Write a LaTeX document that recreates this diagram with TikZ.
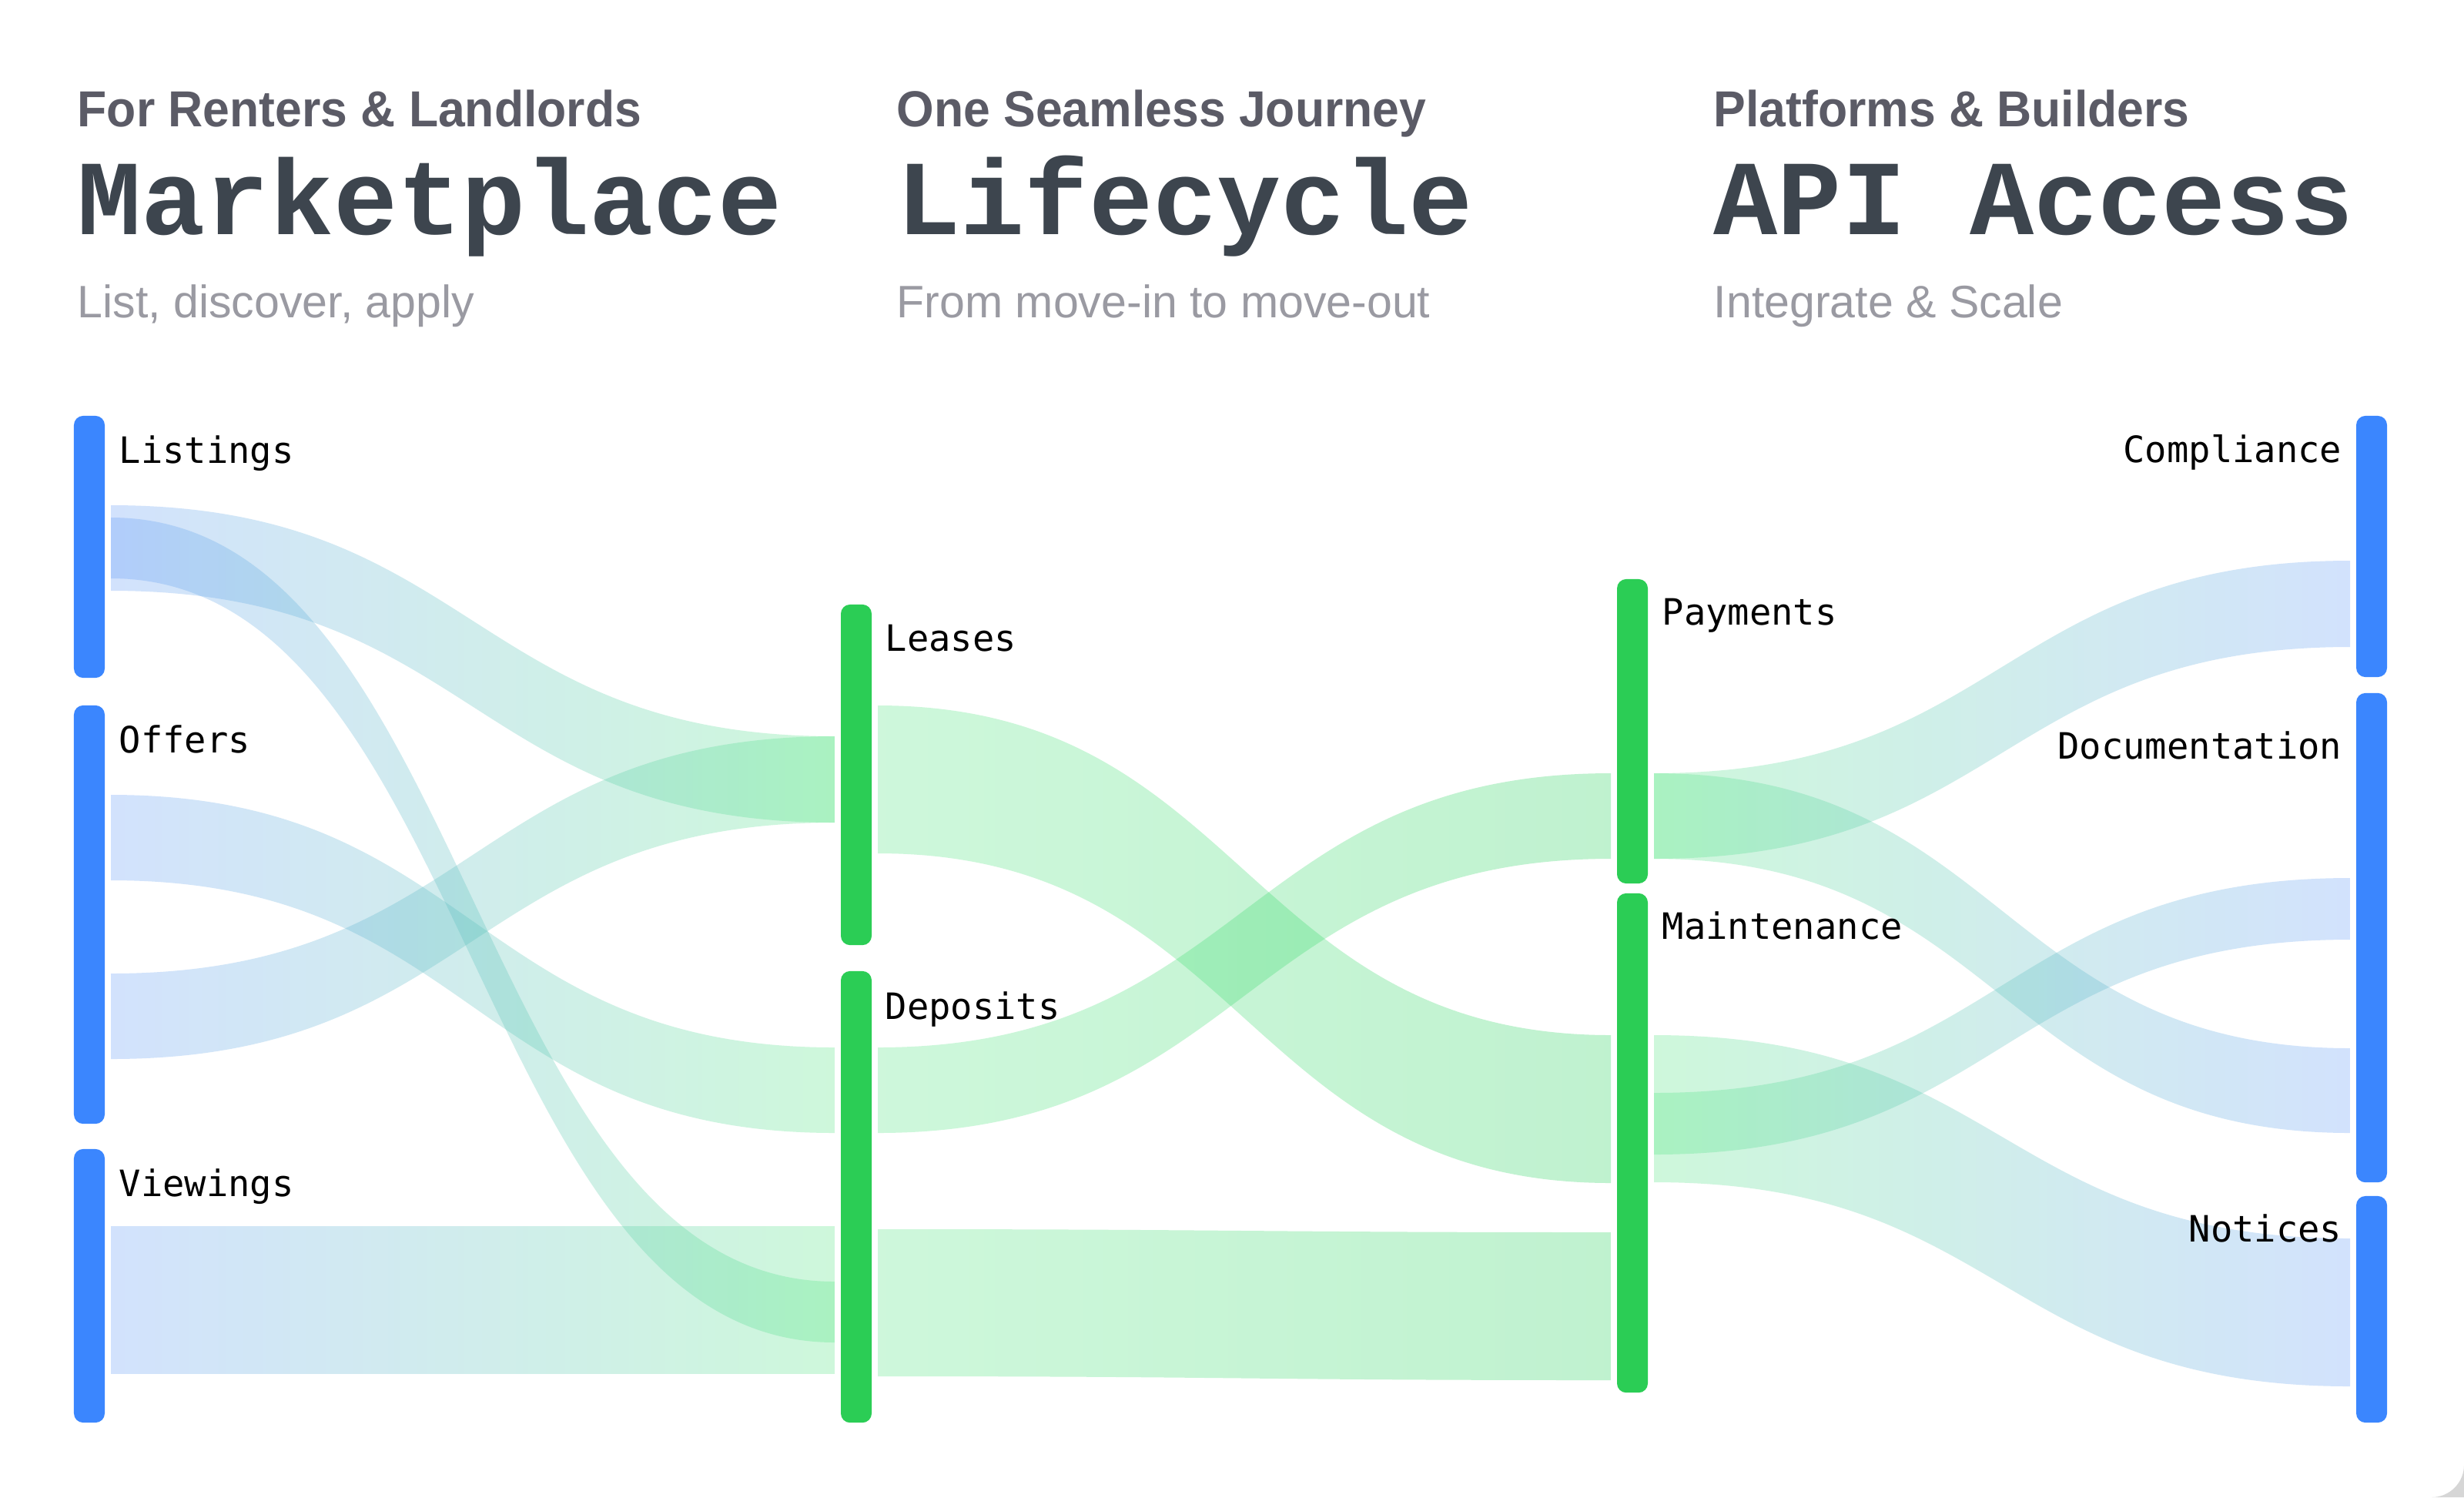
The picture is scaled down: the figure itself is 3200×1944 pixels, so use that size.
\documentclass[tikz,border=0pt]{standalone}
\usepackage{fontspec}
\setmainfont{Liberation Sans}
\newfontfamily\titlefont{Liberation Mono}
\newfontfamily\kickerfont{Liberation Sans}[FakeStretch=0.95]
\newfontfamily\labelfont{DejaVu Sans Mono}
\usepackage{xcolor}
\usepackage{tikz}
\usetikzlibrary{calc}
\definecolor{NodeBlue}{HTML}{3B86FE}
\definecolor{NodeGreen}{HTML}{2BCD55}
\definecolor{FlowBlue}{HTML}{5B96F8}
\definecolor{FlowMint}{HTML}{4AE57C}
\definecolor{FlowGreen}{HTML}{16CF50}
\definecolor{TitleInk}{HTML}{3D454E}
\definecolor{KickerInk}{HTML}{5B5B66}
\definecolor{BlurbInk}{HTML}{9A9AA2}
\definecolor{CornerGray}{HTML}{D6D6D6}
\tikzset{
  sankey bar/.style={
    rectangle,
    rounded corners=0.12cm,
    minimum width=0.4cm,
    inner sep=0pt,
    outer xsep=0.08cm
  },
  sankey label/.style={
    inner sep=0pt,
    font=\labelfont\fontsize{13.4pt}{14pt}\selectfont,
    text=black
  },
  sankey band/.style={fill opacity=0.27},
  blue to mint/.style={left color=FlowBlue, right color=FlowMint},
  mint to green/.style={left color=FlowMint, right color=FlowGreen},
  mint to blue/.style={left color=FlowMint, right color=FlowBlue},
  col kicker/.style={
    anchor=base west, inner sep=0pt,
    font=\kickerfont\bfseries\fontsize{18.7pt}{20pt}\selectfont,
    text=KickerInk
  },
  col title/.style={
    anchor=base west, inner sep=0pt,
    font=\titlefont\bfseries\fontsize{39.4pt}{40pt}\selectfont,
    text=TitleInk
  },
  col blurb/.style={
    anchor=base west, inner sep=0pt,
    font=\fontsize{16.8pt}{18pt}\selectfont,
    text=BlurbInk
  }
}
% #1 from, #2 to, #3/#4 top/bottom at start, #5/#6 top/bottom at end, #7 colours
\newcommand{\sankeyflow}[7]{%
  \path[sankey band, #7]
    let \p1=(#1.east), \p2=(#2.west), \p3=(0,#3), \p4=(0,#4),
        \p5=(0,#5), \p6=(0,#6), \n1={(\x2-\x1)/2} in
    (\x1,\y3) .. controls (\x1+\n1,\y3) and (\x2-\n1,\y5) .. (\x2,\y5)
    -- (\x2,\y6) .. controls (\x2-\n1,\y6) and (\x1+\n1,\y4) .. (\x1,\y4)
    -- cycle;}

\begin{document}
\begin{tikzpicture}[x=0.01cm, y=-0.01cm]
  \useasboundingbox (0,0) rectangle (3200,1944);
  \fill[white] (0,0) rectangle (3200,1944);
  \fill[CornerGray] (3158,1944) arc[start angle=-90, end angle=0, radius=0.42cm]
    -- (3200,1944) -- cycle;

  % column headers
  \node[col kicker] (market kicker) at (100,164) {For Renters \& Landlords};
  \node[col title] (market title) at (100,304) {Marketplace};
  \node[col blurb] (market blurb) at (100,412) {List, discover, apply};
  \node[col kicker] (cycle kicker) at (1164,164) {One Seamless Journey};
  \node[col title] (cycle title) at (1164,304) {Lifecycle};
  \node[col blurb] (cycle blurb) at (1164,412) {From move-in to move-out};
  \node[col kicker] (api kicker) at (2225,164) {Platforms \& Builders};
  \node[col title] (api title) at (2225,304) {API Access};
  \node[col blurb] (api blurb) at (2225,412) {Integrate \& Scale};

  % bars
  \node[sankey bar, fill=NodeBlue, minimum height=3.40cm] (listings) at (116,710) {};
  \node[sankey bar, fill=NodeBlue, minimum height=5.43cm] (offers) at (116,1187.5) {};
  \node[sankey bar, fill=NodeBlue, minimum height=3.55cm] (viewings) at (116,1669.5) {};
  \node[sankey bar, fill=NodeGreen, minimum height=4.42cm] (leases) at (1112,1006) {};
  \node[sankey bar, fill=NodeGreen, minimum height=5.86cm] (deposits) at (1112,1554) {};
  \node[sankey bar, fill=NodeGreen, minimum height=3.95cm] (payments) at (2120,949.5) {};
  \node[sankey bar, fill=NodeGreen, minimum height=6.48cm] (maintenance) at (2120,1484) {};
  \node[sankey bar, fill=NodeBlue, minimum height=3.39cm] (compliance) at (3080,709.5) {};
  \node[sankey bar, fill=NodeBlue, minimum height=6.35cm] (documentation) at (3080,1217.5) {};
  \node[sankey bar, fill=NodeBlue, minimum height=2.94cm] (notices) at (3080,1700) {};

  % flows
  \sankeyflow{listings}{leases}{656}{767}{956}{1068}{blue to mint}
  \sankeyflow{listings}{deposits}{672}{751}{1664}{1743}{blue to mint}
  \sankeyflow{offers}{leases}{1264}{1375}{956}{1068}{blue to mint}
  \sankeyflow{offers}{deposits}{1032}{1143}{1360}{1471}{blue to mint}
  \sankeyflow{viewings}{deposits}{1592}{1783}{1592}{1783}{blue to mint}
  \sankeyflow{leases}{maintenance}{916}{1108}{1344}{1536}{mint to green}
  \sankeyflow{deposits}{payments}{1360}{1471}{1004}{1115}{mint to green}
  \sankeyflow{deposits}{maintenance}{1596}{1787}{1600}{1792}{mint to green}
  \sankeyflow{payments}{compliance}{1004}{1115}{728}{840}{mint to blue}
  \sankeyflow{payments}{documentation}{1004}{1115}{1361}{1471}{mint to blue}
  \sankeyflow{maintenance}{documentation}{1419}{1499}{1140}{1220}{mint to blue}
  \sankeyflow{maintenance}{notices}{1344}{1535}{1608}{1800}{mint to blue}

  % labels
  \node[sankey label, anchor=base west] (listings label) at (154,601) {Listings};
  \node[sankey label, anchor=base west] (offers label) at (154,977) {Offers};
  \node[sankey label, anchor=base west] (viewings label) at (154,1553) {Viewings};
  \node[sankey label, anchor=base west] (leases label) at (1149,845) {Leases};
  \node[sankey label, anchor=base west] (deposits label) at (1149,1323) {Deposits};
  \node[sankey label, anchor=base west] (payments label) at (2158,811) {Payments};
  \node[sankey label, anchor=base west] (maintenance label) at (2158,1219) {Maintenance};
  \node[sankey label, anchor=base east] (compliance label) at (3042,600) {Compliance};
  \node[sankey label, anchor=base east] (documentation label) at (3042,985) {Documentation};
  \node[sankey label, anchor=base east] (notices label) at (3042,1612) {Notices};
\end{tikzpicture}
\end{document}
